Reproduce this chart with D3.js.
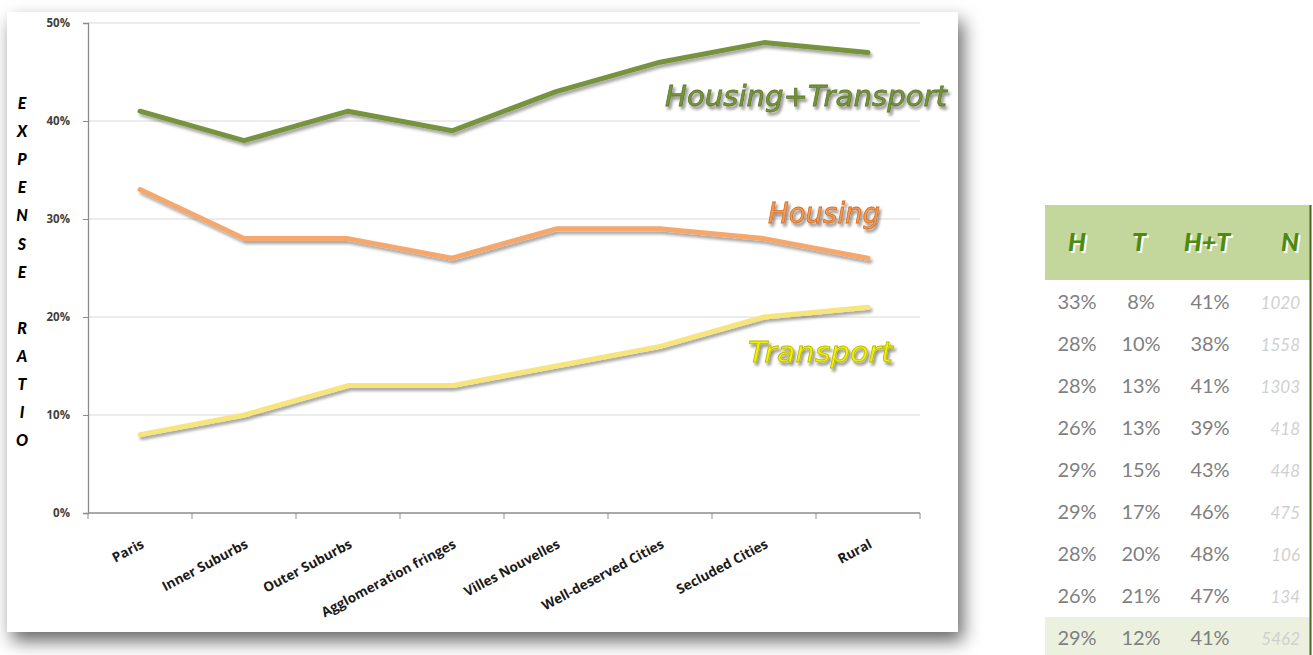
<!DOCTYPE html>
<html>
<head>
<meta charset="utf-8">
<script src="https://cdn.jsdelivr.net/npm/d3@7"></script>
<style>
  html, body { margin: 0; padding: 0; background: #ffffff; }
  svg { display: block; }
</style>
</head>
<body>
<svg id="chart" width="1313" height="655"></svg>
<script>
// Household expense ratio by residential zone
const zones = ["Paris", "Inner Suburbs", "Outer Suburbs", "Agglomeration fringes",
               "Villes Nouvelles", "Well-deserved Cities", "Secluded Cities", "Rural"];
const housing   = [0.33, 0.28, 0.28, 0.26, 0.29, 0.29, 0.28, 0.26];
const transport = [0.08, 0.10, 0.13, 0.13, 0.15, 0.17, 0.20, 0.21];
const housingTransport = [0.41, 0.38, 0.41, 0.39, 0.43, 0.46, 0.48, 0.47];
const households = [1020, 1558, 1303, 418, 448, 475, 106, 134];
const totalRow = { h: 0.29, t: 0.12, ht: 0.41, n: 5462 };
const yTicks = [0, 0.1, 0.2, 0.3, 0.4, 0.5];
const tableHeaders = ["H", "T", "H+T", "N"];
const axisTitle = "EXPENSE RATIO";

const svg = d3.select("#chart");
const defs = svg.append("defs");

// soft shadow around the chart card
const card = defs.append("filter").attr("id", "cardShadow")
  .attr("x", "-10%").attr("y", "-10%").attr("width", "120%").attr("height", "125%");
card.append("feDropShadow").attr("dx", 5).attr("dy", 9)
  .attr("stdDeviation", 9).attr("flood-color", "#000").attr("flood-opacity", 0.6);

// small shadow under each line
const lineSh = defs.append("filter").attr("id", "lineShadow")
  .attr("x", "-5%").attr("y", "-20%").attr("width", "110%").attr("height", "140%");
lineSh.append("feDropShadow").attr("dx", 2).attr("dy", 3)
  .attr("stdDeviation", 1.6).attr("flood-color", "#000").attr("flood-opacity", 0.35);

// shadow for the series captions
const textSh = defs.append("filter").attr("id", "textShadow")
  .attr("x", "-5%").attr("y", "-20%").attr("width", "110%").attr("height", "150%");
textSh.append("feDropShadow").attr("dx", 2).attr("dy", 3)
  .attr("stdDeviation", 1.5).attr("flood-color", "#000").attr("flood-opacity", 0.45);

// chart card
svg.append("rect").attr("x", 7).attr("y", 12).attr("width", 951).attr("height", 620)
  .attr("fill", "#ffffff").attr("filter", "url(#cardShadow)");

const plot = { left: 88, right: 920, top: 23, bottom: 513 };

const x = d3.scaleBand().domain(zones).range([plot.left, plot.right]);
const cx = d => x(d) + x.bandwidth() / 2;
const y = d3.scaleLinear().domain([0, 0.5]).range([plot.bottom, plot.top]);

// gridlines
svg.append("g").selectAll("line").data(yTicks.filter(d => d > 0)).join("line")
  .attr("x1", plot.left).attr("x2", plot.right)
  .attr("y1", d => y(d)).attr("y2", d => y(d))
  .attr("stroke", "#d9d9d9").attr("stroke-width", 1);

// y axis
const yAxis = svg.append("g").attr("transform", `translate(${plot.left},0)`)
  .call(d3.axisLeft(y).tickValues(yTicks).tickFormat(d3.format(".0%"))
    .tickSize(5).tickPadding(13));
yAxis.select(".domain").attr("stroke", "#8c8c8c").attr("stroke-width", 1.3);
yAxis.selectAll(".tick line").attr("stroke", "#8c8c8c");
yAxis.selectAll(".tick text")
  .attr("font-family", "'Open Sans', Lato, sans-serif").attr("font-weight", 700)
  .attr("font-size", 11.5).attr("fill", "#404040");

// x axis with ticks at category boundaries
const xAxis = svg.append("g").attr("transform", `translate(0,${plot.bottom})`);
xAxis.append("line").attr("x1", plot.left).attr("x2", plot.right)
  .attr("stroke", "#8c8c8c").attr("stroke-width", 1.3);
const bounds = zones.map(d => x(d)).concat([plot.right]);
xAxis.selectAll("line.tk").data(bounds).join("line").attr("class", "tk")
  .attr("x1", d => d).attr("x2", d => d).attr("y1", 0).attr("y2", 6)
  .attr("stroke", "#8c8c8c").attr("stroke-width", 1);
xAxis.selectAll("text").data(zones).join("text")
  .attr("transform", d => `translate(${cx(d) + 5},${34}) rotate(-28)`)
  .attr("text-anchor", "end")
  .attr("font-family", "'Open Sans', Lato, sans-serif").attr("font-weight", 700)
  .attr("font-size", 13.5).attr("fill", "#1a1a1a")
  .text(d => d);

// vertical axis title, one letter per row
const letters = axisTitle.split("");
svg.append("g").selectAll("text").data(letters).join("text")
  .attr("x", 22).attr("y", (d, i) => 109 + i * 28.1)
  .attr("text-anchor", "middle")
  .attr("font-family", "Lato, 'Open Sans', sans-serif").attr("font-weight", 900)
  .attr("font-style", "italic").attr("font-size", 16).attr("fill", "#000")
  .text(d => d);

// series lines
const line = d3.line().x((d, i) => cx(zones[i])).y(d => y(d));
const series = [
  { values: transport, color: "#f7e57c" },
  { values: housing, color: "#f6a76c" },
  { values: housingTransport, color: "#77933c" }
];
svg.append("g").selectAll("path").data(series).join("path")
  .attr("d", d => line(d.values))
  .attr("fill", "none").attr("stroke", d => d.color)
  .attr("stroke-width", 5).attr("stroke-linejoin", "round").attr("stroke-linecap", "round")
  .attr("filter", "url(#lineShadow)");

// series captions
const captions = [
  { text: "Housing+Transport", x: 665, y: 106, w: 282, fill: "#77933c", stroke: "#5f7a2a", size: 29 },
  { text: "Housing", x: 768, y: 223, w: 112, fill: "#f29b5a", stroke: "#d46a1a", size: 29 },
  { text: "Transport", x: 748, y: 362, w: 145, fill: "#f2f200", stroke: "#b8b800", size: 29 }
];
svg.append("g").selectAll("text").data(captions).join("text")
  .attr("x", d => d.x).attr("y", d => d.y)
  .attr("textLength", d => d.w).attr("lengthAdjust", "spacingAndGlyphs")
  .attr("font-family", "'DejaVu Sans', sans-serif").attr("font-style", "italic")
  .attr("font-size", d => d.size)
  .attr("fill", d => d.fill).attr("stroke", d => d.stroke).attr("stroke-width", 0.8)
  .attr("filter", "url(#textShadow)")
  .text(d => d.text);

// summary table
const tbl = svg.append("g");
const colX = [1077, 1141, 1210, 1300];
const rowY0 = 302, rowStep = 42;
tbl.append("rect").attr("x", 1045).attr("y", 205).attr("width", 265).attr("height", 75)
  .attr("fill", "#c3d69b");
tbl.append("rect").attr("x", 1045).attr("y", 617).attr("width", 265).attr("height", 38)
  .attr("fill", "#ebf1de");
tbl.append("line").attr("x1", 1310.5).attr("x2", 1310.5).attr("y1", 205).attr("y2", 655)
  .attr("stroke", "#4f6228").attr("stroke-width", 2);

const headX = [1077, 1139, 1207, 1290];
[{ dx: 2, dy: 1.5, c: "#ffffff" }, { dx: 0, dy: 0, c: "#4e8a0e" }].forEach(layer => {
  tbl.append("g").selectAll("text").data(tableHeaders).join("text")
    .attr("x", (d, i) => headX[i] + layer.dx)
    .attr("y", 251 + layer.dy)
    .attr("text-anchor", "middle")
    .attr("font-family", "Lato, 'Open Sans', sans-serif").attr("font-weight", 900)
    .attr("font-style", "italic").attr("font-size", 25)
    .attr("fill", layer.c)
    .text(d => d);
});

const pct = d3.format(".0%");
const rows = housing.map((h, i) => ({ h, t: transport[i], ht: housingTransport[i], n: households[i] }))
  .concat([totalRow]);
const rowG = tbl.append("g").selectAll("g").data(rows).join("g")
  .attr("transform", (d, i) => `translate(0,${rowY0 + i * rowStep + 7})`);
[["h", 0], ["t", 1], ["ht", 2]].forEach(([k, ci]) => {
  rowG.append("text").attr("x", colX[ci]).attr("text-anchor", "middle")
    .attr("font-family", "Lato, 'Open Sans', sans-serif").attr("font-size", 20)
    .attr("fill", "#7f7f7f").text(d => pct(d[k]));
});
rowG.append("text").attr("x", colX[3]).attr("text-anchor", "end")
  .attr("font-family", "Lato, 'Open Sans', sans-serif").attr("font-style", "italic")
  .attr("font-size", 17).attr("fill", "#d0d0d0").text(d => d.n);
</script>
</body>
</html>
